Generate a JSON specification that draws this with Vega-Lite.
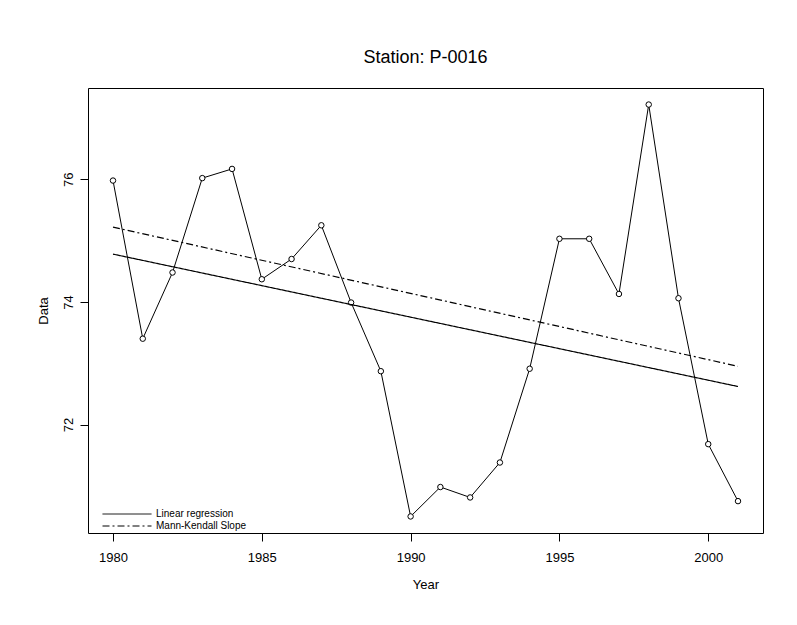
{
  "$schema": "https://vega.github.io/schema/vega-lite/v6.json",
  "width": 675,
  "height": 445,
  "autosize": {"type": "none"},
  "padding": {"left": 88, "top": 88, "right": 34, "bottom": 92},
  "background": "white",
  "title": {"text": "Station: P-0016", "fontSize": 18, "font": "Liberation Sans", "fontWeight": "normal", "offset": 21, "color": "black"},
  "config": {
    "font": "Liberation Sans",
    "view": {"stroke": "black", "strokeWidth": 1},
    "axis": {"grid": false, "domain": false, "tickColor": "black", "tickSize": 8, "labelColor": "black", "titleColor": "black", "labelFont": "Liberation Sans", "titleFont": "Liberation Sans", "labelFontSize": 13, "titleFontSize": 13, "titleFontWeight": "normal"}
  },
  "datasets": {
    "series": [
      {"Year": 1980, "Data": 75.98}, {"Year": 1981, "Data": 73.40}, {"Year": 1982, "Data": 74.48},
      {"Year": 1983, "Data": 76.02}, {"Year": 1984, "Data": 76.17}, {"Year": 1985, "Data": 74.37},
      {"Year": 1986, "Data": 74.70}, {"Year": 1987, "Data": 75.25}, {"Year": 1988, "Data": 73.99},
      {"Year": 1989, "Data": 72.87}, {"Year": 1990, "Data": 70.50}, {"Year": 1991, "Data": 70.98},
      {"Year": 1992, "Data": 70.81}, {"Year": 1993, "Data": 71.38}, {"Year": 1994, "Data": 72.91},
      {"Year": 1995, "Data": 75.03}, {"Year": 1996, "Data": 75.03}, {"Year": 1997, "Data": 74.13},
      {"Year": 1998, "Data": 77.22}, {"Year": 1999, "Data": 74.06}, {"Year": 2000, "Data": 71.68},
      {"Year": 2001, "Data": 70.75}
    ],
    "fits": [
      {"Line": "Linear regression", "Year": 1980, "Data": 74.78},
      {"Line": "Linear regression", "Year": 2001, "Data": 72.62},
      {"Line": "Mann-Kendall Slope", "Year": 1980, "Data": 75.22},
      {"Line": "Mann-Kendall Slope", "Year": 2001, "Data": 72.95}
    ]
  },
  "encoding": {
    "x": {"field": "Year", "type": "quantitative",
      "scale": {"domain": [1979.16, 2001.84], "nice": false, "zero": false},
      "axis": {"values": [1980, 1985, 1990, 1995, 2000], "format": "d", "labelPadding": 10, "titlePadding": 14, "title": "Year"}},
    "y": {"field": "Data", "type": "quantitative",
      "scale": {"domain": [70.23, 77.49], "nice": false, "zero": false},
      "axis": {"values": [72, 74, 76], "format": "d", "labelAngle": -90, "labelPadding": 5, "titlePadding": 12, "title": "Data"}}
  },
  "layer": [
    {"data": {"name": "series"}, "mark": {"type": "line", "color": "black", "strokeWidth": 1}},
    {"data": {"name": "series"}, "mark": {"type": "point", "shape": "circle", "size": 30, "filled": true, "fill": "white", "stroke": "black", "strokeWidth": 1, "opacity": 1}},
    {"data": {"name": "fits"}, "mark": {"type": "line", "color": "black", "strokeWidth": 1.2},
      "encoding": {
        "detail": {"field": "Line"},
        "strokeDash": {"field": "Line", "type": "nominal",
          "scale": {"domain": ["Linear regression", "Mann-Kendall Slope"], "range": [[1, 0], [7, 3, 2, 3]]},
          "legend": {"title": null, "orient": "none", "legendX": 14, "legendY": 421, "symbolType": "stroke", "symbolSize": 2401, "clipHeight": 10, "symbolStrokeColor": "black", "symbolStrokeWidth": 1, "labelFontSize": 10, "labelColor": "black", "labelFont": "Liberation Sans", "rowPadding": 2, "padding": 0}}
      }}
  ]
}
